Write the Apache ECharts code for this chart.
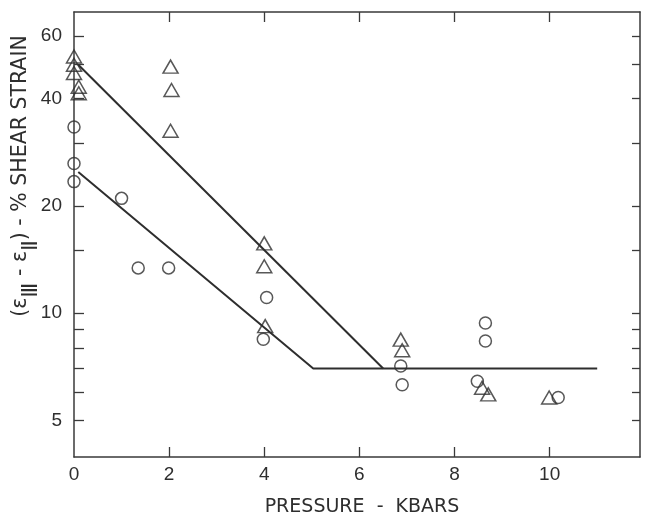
<!DOCTYPE html>
<html>
<head>
<meta charset="utf-8">
<script src="https://cdn.jsdelivr.net/npm/echarts@6/dist/echarts.min.js"></script>
<style>
html,body{margin:0;padding:0;background:#fff;}
#c{width:645px;height:520px;}
</style>
</head>
<body>
<div id="c"></div>
<script>
// ---- data (pressure in kbars, % shear strain) ----
var xTickLabels = [0, 2, 4, 6, 8, 10];
var xTicks = [2, 4, 6, 8, 10];
var yTickLabels = [5, 10, 20, 40, 60];
var yTicks = [5, 6, 7, 8, 9, 10, 15, 20, 30, 40, 50, 60];

var triangles = [
  [0.0, 52.5], [0.0, 49.8], [0.0, 47.2], [0.1, 43.2], [0.1, 41.4],
  [2.03, 49.2], [2.05, 42.3], [2.03, 32.5],
  [4.0, 15.7], [4.0, 13.55], [4.02, 9.2],
  [6.87, 8.43], [6.9, 7.87],
  [8.58, 6.18], [8.71, 5.92],
  [9.99, 5.8]
];
var circles = [
  [0.0, 33.3], [0.0, 26.3], [0.0, 23.4],
  [1.0, 21.0], [1.35, 13.4], [1.99, 13.4],
  [4.05, 11.07], [3.98, 8.45],
  [6.87, 7.11], [6.9, 6.3],
  [8.65, 9.39], [8.65, 8.36], [8.48, 6.44],
  [10.18, 5.8]
];
var upperLine = [[0.09, 49.8], [6.5, 7.0]];
var lowerLine = [[0.09, 24.9], [5.03, 7.0], [11.0, 7.0]];

var INK = '#2e2e2e';
var TICKFONT = '"Liberation Sans", Arimo, sans-serif';
var TITLEFONT = '"DejaVu Sans", sans-serif';

var chart = echarts.init(document.getElementById('c'), null, {renderer: 'canvas'});

function xAx(pos, showLabel) {
  return {
    type: 'value', position: pos, min: 0, max: 11.9, interval: 2,
    axisLine: {show: true, onZero: false, lineStyle: {color: '#3a3a3a', width: 1.5}},
    axisTick: {show: true, inside: true, length: 10, customValues: xTicks, lineStyle: {color: '#3a3a3a', width: 1.3}},
    axisLabel: {show: showLabel, customValues: xTickLabels, fontFamily: TICKFONT, fontSize: 19, color: INK, margin: 8},
    splitLine: {show: false}
  };
}
function yAx(pos, showLabel, len) {
  return {
    type: 'log', logBase: 10, position: pos, min: 3.95, max: 70,
    axisLine: {show: true, onZero: false, lineStyle: {color: '#3a3a3a', width: 1.5}},
    axisTick: {show: true, inside: true, length: len, customValues: yTicks, lineStyle: {color: '#3a3a3a', width: 1.3}},
    axisLabel: {show: showLabel, customValues: yTickLabels, fontFamily: TICKFONT, fontSize: 19, color: INK, margin: 12},
    splitLine: {show: false}, minorTick: {show: false}
  };
}

var option = {
  backgroundColor: '#fff',
  animation: false,
  grid: {left: 74, top: 12, width: 566, height: 445},
  xAxis: [xAx('bottom', true), xAx('top', false)],
  yAxis: [yAx('left', true, 10), yAx('right', false, 8)],
  graphic: [
    {
      type: 'text', x: 362, y: 507,
      style: {text: 'PRESSURE  -  KBARS', fontFamily: TITLEFONT, fontSize: 19, fill: INK, align: 'center', verticalAlign: 'middle'}
    },
    {
      type: 'text', x: 21, y: 176, rotation: Math.PI / 2,
      style: {
        text: '{a|(ε}{s|Ⅲ}{a| - ε}{s|Ⅱ}{a|) - % SHEAR STRAIN}',
        align: 'center', verticalAlign: 'middle',
        rich: {
          a: {fontFamily: TITLEFONT, fontSize: 20.5, fill: INK, lineHeight: 42, verticalAlign: 'middle'},
          s: {fontFamily: TITLEFONT, fontSize: 22, fill: INK, lineHeight: 22, verticalAlign: 'bottom'}
        }
      }
    }
  ],
  series: [
    {type: 'line', data: upperLine, showSymbol: false, symbol: 'none', lineStyle: {color: INK, width: 2}, z: 2},
    {type: 'line', data: lowerLine, showSymbol: false, symbol: 'none', lineStyle: {color: INK, width: 2}, z: 2},
    {type: 'scatter', data: triangles, symbol: 'triangle', symbolSize: [15, 13],
     itemStyle: {color: 'rgba(0,0,0,0)', borderColor: INK, borderWidth: 1.5}, z: 3},
    {type: 'scatter', data: circles, symbol: 'circle', symbolSize: 12,
     itemStyle: {color: 'rgba(0,0,0,0)', borderColor: INK, borderWidth: 1.5}, z: 3}
  ]
};
chart.setOption(option);
</script>
</body>
</html>
